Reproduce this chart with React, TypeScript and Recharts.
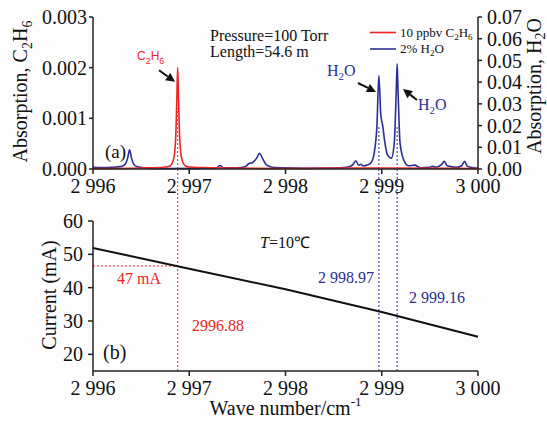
import { LineChart, Line, XAxis, YAxis, ReferenceLine } from "recharts";

// wavenumber axis (cm-1)
const X_TICKS = [2996, 2997, 2998, 2999, 3000];
const C2H6_TICKS = [0, 0.001, 0.002, 0.003];
const H2O_TICKS = [0, 0.01, 0.02, 0.03, 0.04, 0.05, 0.06, 0.07];
const CURRENT_TICKS = [20, 30, 40, 50, 60];

// 10 ppbv C2H6 spectrum (left axis)
const C2H6_WN = [
  2996.0, 2996.5, 2996.7, 2996.76, 2996.8, 2996.84, 2996.86, 2996.87, 2996.88,
  2996.89, 2996.9, 2996.92, 2996.96, 2997.0, 2997.1, 2998.0, 2998.6, 2999.0, 3000.0,
];
const C2H6_ABS = [
  0.00001, 0.00002, 0.00003, 0.00004, 0.00006, 0.00022, 0.00065, 0.0013, 0.002,
  0.0013, 0.00065, 0.00022, 0.00006, 0.00004, 0.00003, 0.00001, 0.00002, 0.00002, 0.00001,
];

// 2% H2O spectrum (right axis)
const H2O_WN = [
  2996.0, 2996.1, 2996.2, 2996.3, 2996.34, 2996.36, 2996.38, 2996.4, 2996.42, 2996.46,
  2996.6, 2996.8, 2997.1, 2997.28, 2997.32, 2997.36, 2997.5, 2997.58, 2997.62, 2997.66,
  2997.7, 2997.73, 2997.76, 2997.8, 2997.86, 2997.96, 2998.2, 2998.5, 2998.65, 2998.7,
  2998.73, 2998.76, 2998.78, 2998.81, 2998.85, 2998.89, 2998.92, 2998.95, 2998.97, 2998.99,
  2999.01, 2999.03, 2999.06, 2999.1, 2999.13, 2999.15, 2999.16, 2999.17, 2999.19, 2999.23,
  2999.28, 2999.34, 2999.4, 2999.5, 2999.53, 2999.56, 2999.62, 2999.65, 2999.68, 2999.78,
  2999.83, 2999.86, 2999.89, 2999.95, 3000.0,
];
const H2O_ABS = [
  0.0008, 0.0007, 0.0008, 0.0012, 0.0025, 0.005, 0.0088, 0.005, 0.0025, 0.001,
  0.0003, 0.0002, 0.0003, 0.0005, 0.0016, 0.0005, 0.0005, 0.001, 0.0025, 0.003,
  0.005, 0.0072, 0.005, 0.002, 0.0008, 0.0005, 0.0003, 0.0004, 0.0009, 0.002,
  0.0038, 0.0017, 0.0022, 0.0014, 0.0018, 0.003, 0.007, 0.02, 0.043, 0.025,
  0.02, 0.013, 0.0065, 0.005, 0.012, 0.035, 0.0485, 0.035, 0.012, 0.004,
  0.0015, 0.0018, 0.0006, 0.0008, 0.0012, 0.0008, 0.002, 0.0035, 0.0015, 0.0008,
  0.0015, 0.0035, 0.0012, 0.0006, 0.0004,
];

// laser current vs wavenumber at T=10 C
const CURRENT_WN = [2996, 2997, 2998, 2999, 3000];
const CURRENT_MA = [51.9, 45.7, 39.5, 32.7, 25.3];

const C2H6_LINE = 2996.88;
const H2O_LINES = [2998.97, 2999.16];
const C2H6_CURRENT = 46.5;

const RED = "#ee2424";
const BLUE = "#2b2e94";
const SERIF = "'Liberation Serif', 'Times New Roman', Times, serif";
const SANS = "'Liberation Sans', Arial, sans-serif";

const c2h6Data = C2H6_WN.map((wn, i) => ({ wn, abs: C2H6_ABS[i] }));
const h2oData = H2O_WN.map((wn, i) => ({ wn, abs: H2O_ABS[i] }));
const currentData = CURRENT_WN.map((wn, i) => ({ wn, mA: CURRENT_MA[i] }));

const fmtWn = (v: number) => {
  const s = String(Math.round(v));
  return s[0] + " " + s.slice(1);
};

const tick = { fill: "#111", fontSize: 20, fontFamily: SERIF };
const axisLine = { stroke: "#222", strokeWidth: 1.5 };
const tickLine = { stroke: "#222", strokeWidth: 1.5 };

function Arrow(props: any) {
  const { x1, y1, x2, y2 } = props;
  const a = Math.atan2(y2 - y1, x2 - x1);
  const len = 9;
  const w = 4.5;
  const bx = x2 - len * Math.cos(a);
  const by = y2 - len * Math.sin(a);
  const px = -Math.sin(a) * w;
  const py = Math.cos(a) * w;
  return (
    <g>
      <line x1={x1} y1={y1} x2={bx} y2={by} stroke="#111" strokeWidth={2} />
      <polygon points={`${x2},${y2} ${bx + px},${by + py} ${bx - px},${by - py}`} fill="#111" />
    </g>
  );
}

export default function App() {
  return (
    <div
      style={{
        position: "absolute",
        left: 0,
        top: 0,
        width: 547,
        height: 421,
        background: "#fdfdfd",
        overflow: "hidden",
        fontFamily: SERIF,
      }}
    >
      {/* (a) absorption spectra */}
      <div style={{ position: "absolute", left: 0, top: 0 }}>
        <LineChart width={547} height={421} margin={{ top: 17, right: 0, bottom: 222, left: 0 }}>
          <XAxis
            type="number"
            dataKey="wn"
            domain={[2996, 3000]}
            ticks={X_TICKS}
            tickFormatter={fmtWn}
            interval={0}
            height={30}
            tick={tick}
            axisLine={axisLine}
            tickLine={tickLine}
            tickSize={5}
            tickMargin={5}
            allowDataOverflow
          />
          <YAxis
            yAxisId="left"
            domain={[0, 0.003]}
            ticks={C2H6_TICKS}
            tickFormatter={(v: number) => v.toFixed(3)}
            interval={0}
            width={93}
            tick={tick}
            axisLine={axisLine}
            tickLine={tickLine}
            tickSize={4}
            tickMargin={2}
          />
          <YAxis
            yAxisId="right"
            orientation="right"
            domain={[0, 0.07]}
            ticks={H2O_TICKS}
            tickFormatter={(v: number) => v.toFixed(2)}
            interval={0}
            width={69}
            tick={tick}
            axisLine={axisLine}
            tickLine={tickLine}
            tickSize={4}
            tickMargin={5}
          />
          <ReferenceLine
            yAxisId="left"
            segment={[{ x: C2H6_LINE, y: 0 }, { x: C2H6_LINE, y: 0.0012 }]}
            stroke={RED}
            strokeDasharray="2 2"
          />
          {H2O_LINES.map((wn) => (
            <ReferenceLine
              key={wn}
              yAxisId="right"
              segment={[{ x: wn, y: 0 }, { x: wn, y: 0.02 }]}
              stroke={BLUE}
              strokeDasharray="2 2"
            />
          ))}
          <Line
            data={h2oData}
            yAxisId="right"
            dataKey="abs"
            type="monotone"
            stroke={BLUE}
            strokeWidth={1.6}
            dot={false}
            isAnimationActive={false}
          />
          <Line
            data={c2h6Data}
            yAxisId="left"
            dataKey="abs"
            type="monotone"
            stroke={RED}
            strokeWidth={1.6}
            dot={false}
            isAnimationActive={false}
          />
          <ReferenceLine
            yAxisId="left"
            segment={[{ x: 2996.686, y: 0.00195 }, { x: 2996.852, y: 0.00172 }]}
            shape={Arrow}
            ifOverflow="visible"
          />
          <ReferenceLine
            yAxisId="right"
            segment={[{ x: 2998.753, y: 0.0396 }, { x: 2998.94, y: 0.0355 }]}
            shape={Arrow}
            ifOverflow="visible"
          />
          <ReferenceLine
            yAxisId="right"
            segment={[{ x: 2999.366, y: 0.0318 }, { x: 2999.221, y: 0.0368 }]}
            shape={Arrow}
            ifOverflow="visible"
          />
        </LineChart>
      </div>

      {/* (b) current tuning */}
      <div style={{ position: "absolute", left: 0, top: 0 }}>
        <LineChart width={547} height={421} margin={{ top: 221, right: 69, bottom: 20, left: 0 }}>
          <XAxis
            type="number"
            dataKey="wn"
            domain={[2996, 3000]}
            ticks={X_TICKS}
            tickFormatter={fmtWn}
            interval={0}
            height={30}
            tick={tick}
            axisLine={axisLine}
            tickLine={tickLine}
            tickSize={5}
            tickMargin={5}
          />
          <YAxis
            domain={[15, 60]}
            ticks={CURRENT_TICKS}
            interval={0}
            width={93}
            tick={tick}
            axisLine={axisLine}
            tickLine={tickLine}
            tickSize={5}
            tickMargin={5}
          />
          <ReferenceLine
            segment={[{ x: C2H6_LINE, y: 15 }, { x: C2H6_LINE, y: 75.5 }]}
            stroke={RED}
            strokeDasharray="2 2"
            ifOverflow="visible"
          />
          <ReferenceLine
            segment={[{ x: 2996, y: C2H6_CURRENT }, { x: C2H6_LINE, y: C2H6_CURRENT }]}
            stroke={RED}
            strokeDasharray="2 2"
          />
          {H2O_LINES.map((wn) => (
            <ReferenceLine
              key={wn}
              segment={[{ x: wn, y: 15 }, { x: wn, y: 75.5 }]}
              stroke={BLUE}
              strokeDasharray="2 2"
              ifOverflow="visible"
            />
          ))}
          <Line
            data={currentData}
            dataKey="mA"
            type="linear"
            stroke="#111"
            strokeWidth={2}
            dot={false}
            isAnimationActive={false}
          />
        </LineChart>
      </div>

      {/* titles and annotations */}
      <svg
        width={547}
        height={421}
        style={{ position: "absolute", left: 0, top: 0, pointerEvents: "none", fontFamily: SERIF }}
      >
        <text transform="translate(27,91.5) rotate(-90)" textAnchor="middle" fontSize={20} fill="#111">
          Absorption, C<tspan fontSize={14} dy={5}>2</tspan>
          <tspan dy={-5}>H</tspan>
          <tspan fontSize={14} dy={5}>6</tspan>
        </text>
        <text transform="translate(541,86) rotate(-90)" textAnchor="middle" fontSize={20} fill="#111">
          Absorption, H<tspan fontSize={14} dy={4}>2</tspan>
          <tspan dy={-4}>O</tspan>
        </text>
        <text transform="translate(56,295) rotate(-90)" textAnchor="middle" fontSize={20} fill="#111">
          Current (mA)
        </text>
        <text x={285.5} y={415} textAnchor="middle" fontSize={20} fill="#111">
          Wave number/cm<tspan fontSize={13} dy={-9}>-1</tspan>
        </text>

        <text x={210} y={41} fontSize={16} fill="#111">Pressure=100 Torr</text>
        <text x={210} y={57} fontSize={16} fill="#111">Length=54.6 m</text>

        <line x1={370} y1={32.5} x2={396} y2={32.5} stroke={RED} strokeWidth={1.6} />
        <text x={400} y={37} fontSize={13} fill="#111">
          10 ppbv C<tspan fontSize={9} dy={3}>2</tspan>
          <tspan dy={-3}>H</tspan>
          <tspan fontSize={9} dy={3}>6</tspan>
        </text>
        <line x1={370} y1={49} x2={396} y2={49} stroke={BLUE} strokeWidth={1.6} />
        <text x={400} y={53} fontSize={13} fill="#111">
          2% H<tspan fontSize={9} dy={3}>2</tspan>
          <tspan dy={-3}>O</tspan>
        </text>

        <text x={137} y={60} fontSize={12} fill={RED} style={{ fontFamily: SANS }}>
          C<tspan fontSize={9} dy={4}>2</tspan>
          <tspan fontSize={12} dy={-4}>H</tspan>
          <tspan fontSize={9} dy={4}>6</tspan>
        </text>
        <text x={327} y={76} fontSize={16} fill={BLUE}>
          H<tspan fontSize={11} dy={4}>2</tspan>
          <tspan dy={-4}>O</tspan>
        </text>
        <text x={418} y={110} fontSize={16} fill={BLUE}>
          H<tspan fontSize={11} dy={4}>2</tspan>
          <tspan dy={-4}>O</tspan>
        </text>

        <text x={105} y={158} fontSize={19} fill="#111">(a)</text>
        <text x={103} y={359} fontSize={20} fill="#111">(b)</text>

        <text x={260} y={248} fontSize={16} fill="#111">
          <tspan fontStyle="italic">T</tspan>=10℃
        </text>
        <text x={117} y={284} fontSize={16} fill={RED}>47 mA</text>
        <text x={192} y={331} fontSize={16} fill={RED}>2996.88</text>
        <text x={318} y={283} fontSize={16} fill={BLUE}>2 998.97</text>
        <text x={409} y={303} fontSize={16} fill={BLUE}>2 999.16</text>
      </svg>
    </div>
  );
}
